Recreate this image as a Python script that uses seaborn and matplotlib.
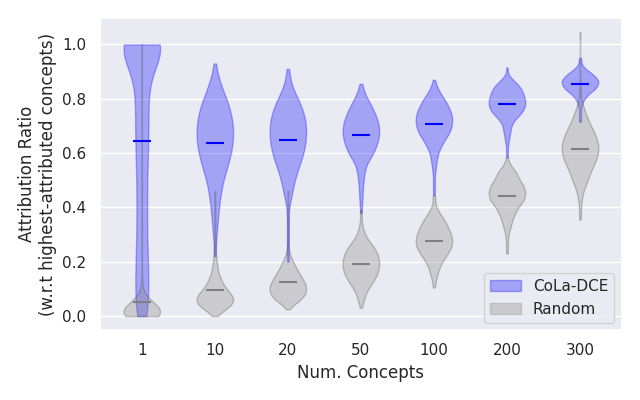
import numpy as np
import pandas as pd
import seaborn as sns
import matplotlib
matplotlib.use('Agg')
import matplotlib.pyplot as plt
from matplotlib.patches import Patch

# number of concepts (x categories)
concepts = ['1', '10', '20', '50', '100', '200', '300']

# attribution ratio values and how often they occur
# CoLa-DCE
cola_1_v = [0.0, 0.05, 0.1, 0.15, 0.2, 0.25, 0.3, 0.35, 0.4, 0.45, 0.5, 0.55, 0.6, 0.65, 0.7,
            0.75, 0.8, 0.85, 0.9, 0.95, 1.0]
cola_1_n = [6, 5, 5, 5, 5, 4, 4, 4, 4, 4, 4, 4, 5, 5, 5, 5, 5, 5, 5, 8, 42]
cola_10_v = [0.22, 0.26, 0.3, 0.34, 0.38, 0.42, 0.46, 0.5, 0.54, 0.58, 0.62, 0.66, 0.7, 0.74,
             0.78, 0.82, 0.86, 0.9, 0.93]
cola_10_n = [1, 1, 2, 3, 4, 5, 7, 9, 13, 16, 19, 20, 20, 18, 15, 10, 6, 2, 1]
cola_20_v = [0.2, 0.24, 0.28, 0.32, 0.36, 0.4, 0.44, 0.48, 0.52, 0.56, 0.6, 0.64, 0.68, 0.72,
             0.76, 0.8, 0.84, 0.88, 0.91]
cola_20_n = [1, 1, 1, 1, 1, 1, 4, 6, 9, 13, 17, 19, 20, 19, 16, 11, 5, 2, 1]
cola_50_v = [0.38, 0.41, 0.44, 0.47, 0.5, 0.53, 0.56, 0.59, 0.62, 0.65, 0.68, 0.71, 0.74, 0.77,
             0.8, 0.83, 0.855]
cola_50_n = [1, 1, 2, 2, 3, 4, 6, 12, 16, 19, 20, 19, 16, 12, 7, 3, 1]
cola_100_v = [0.445, 0.47, 0.495, 0.52, 0.545, 0.57, 0.595, 0.62, 0.645, 0.67, 0.695, 0.72,
              0.745, 0.77, 0.795, 0.82, 0.845, 0.87]
cola_100_n = [1, 1, 1, 1, 2, 3, 4, 7, 11, 16, 19, 20, 19, 16, 12, 7, 3, 1]
cola_200_v = [0.585, 0.605, 0.625, 0.645, 0.665, 0.685, 0.705, 0.725, 0.745, 0.765, 0.785,
              0.805, 0.825, 0.845, 0.865, 0.885, 0.915]
cola_200_n = [1, 1, 1, 2, 3, 4, 5, 9, 15, 19, 20, 19, 17, 14, 8, 2, 1]
cola_300_v = [0.715, 0.73, 0.745, 0.76, 0.775, 0.79, 0.805, 0.82, 0.835, 0.85, 0.865, 0.88,
              0.895, 0.91, 0.925, 0.94, 0.95]
cola_300_n = [1, 1, 1, 1, 2, 3, 6, 10, 16, 19, 20, 17, 12, 6, 2, 1, 1]

# Random baseline
rand_1_v = [0.0, 0.01, 0.02, 0.03, 0.04, 0.05, 0.06, 0.08, 0.1, 0.13, 0.16, 0.2, 0.25, 0.3,
            0.35, 0.4, 0.45, 0.5, 0.6, 0.7, 0.8, 0.9, 0.95, 1.0]
rand_1_n = [60, 50, 40, 30, 20, 10, 6, 3, 2, 1, 1, 1, 1, 1, 1, 1, 1, 1, 1, 1, 1, 1, 1, 1]
rand_10_v = [0.0, 0.015, 0.03, 0.045, 0.06, 0.075, 0.09, 0.105, 0.12, 0.135, 0.15, 0.17, 0.19,
             0.21, 0.23, 0.26, 0.3, 0.34, 0.38, 0.42, 0.46]
rand_10_n = [1, 6, 14, 18, 20, 18, 14, 10, 8, 6, 5, 4, 3, 2, 2, 1, 1, 1, 1, 1, 1]
rand_20_v = [0.025, 0.04, 0.055, 0.07, 0.085, 0.1, 0.115, 0.13, 0.145, 0.16, 0.175, 0.19,
             0.205, 0.22, 0.24, 0.27, 0.31, 0.35, 0.4, 0.46]
rand_20_n = [1, 5, 12, 17, 19, 20, 19, 17, 14, 12, 9, 7, 5, 3, 2, 1, 1, 1, 1, 1]
rand_50_v = [0.03, 0.055, 0.08, 0.105, 0.13, 0.155, 0.18, 0.205, 0.23, 0.255, 0.28, 0.305,
             0.33, 0.36, 0.39]
rand_50_n = [1, 3, 5, 9, 14, 18, 20, 20, 18, 14, 8, 4, 2, 1, 1]
rand_100_v = [0.105, 0.13, 0.155, 0.18, 0.205, 0.23, 0.255, 0.28, 0.305, 0.33, 0.355, 0.38,
              0.405, 0.43, 0.445]
rand_100_n = [1, 2, 4, 6, 10, 15, 19, 20, 18, 15, 11, 6, 2, 1, 1]
rand_200_v = [0.23, 0.255, 0.28, 0.305, 0.33, 0.355, 0.38, 0.405, 0.43, 0.455, 0.48, 0.505,
              0.53, 0.555, 0.585]
rand_200_n = [1, 1, 1, 2, 4, 6, 9, 13, 19, 20, 18, 13, 10, 4, 1]
rand_300_v = [0.355, 0.38, 0.405, 0.43, 0.455, 0.48, 0.505, 0.53, 0.555, 0.58, 0.605, 0.63,
              0.655, 0.68, 0.705, 0.73, 0.755, 0.78, 0.81, 0.85, 1.045]
rand_300_n = [1, 1, 1, 2, 3, 6, 9, 11, 15, 18, 20, 20, 18, 15, 11, 8, 5, 3, 1, 1, 1]

groups = {
    'CoLa-DCE': [(cola_1_v, cola_1_n), (cola_10_v, cola_10_n), (cola_20_v, cola_20_n),
                 (cola_50_v, cola_50_n), (cola_100_v, cola_100_n), (cola_200_v, cola_200_n),
                 (cola_300_v, cola_300_n)],
    'Random': [(rand_1_v, rand_1_n), (rand_10_v, rand_10_n), (rand_20_v, rand_20_n),
               (rand_50_v, rand_50_n), (rand_100_v, rand_100_n), (rand_200_v, rand_200_n),
               (rand_300_v, rand_300_n)],
}

frames = []
for method, lst in groups.items():
    for c, (v, n) in zip(concepts, lst):
        vals = np.repeat(v, n)
        frames.append(pd.DataFrame({'method': method, 'concepts': c, 'ratio': vals}))
df = pd.concat(frames, ignore_index=True)

sns.set_theme(style='darkgrid')
fig, ax = plt.subplots(figsize=(6.4, 4.0), dpi=100)

colors = {'CoLa-DCE': 'blue', 'Random': 'gray'}
xs = np.arange(len(concepts))
for method in ['CoLa-DCE', 'Random']:
    sub = df[df['method'] == method]
    sns.violinplot(data=sub, x='concepts', y='ratio', order=concepts, ax=ax,
                   color=colors[method], linecolor=colors[method], saturation=1,
                   inner=None, cut=0, width=0.5, density_norm='width',
                   bw_method=0.22, linewidth=1, alpha=0.3)
    means = sub.groupby('concepts')['ratio'].mean().reindex(concepts)
    ax.hlines(means.values, xs - 0.125, xs + 0.125, colors=colors[method], lw=1.5, zorder=5)

ax.set_xlim(-0.575, 6.575)
ax.set_xlabel('Num. Concepts')
ax.set_ylabel('Attribution Ratio\n(w.r.t highest-attributed concepts)')

handles = [Patch(facecolor='blue', edgecolor='blue', alpha=0.3, label='CoLa-DCE'),
           Patch(facecolor='gray', edgecolor='gray', alpha=0.3, label='Random')]
ax.legend(handles=handles, loc='lower right')

plt.tight_layout()
plt.savefig('out.png', dpi=100)
